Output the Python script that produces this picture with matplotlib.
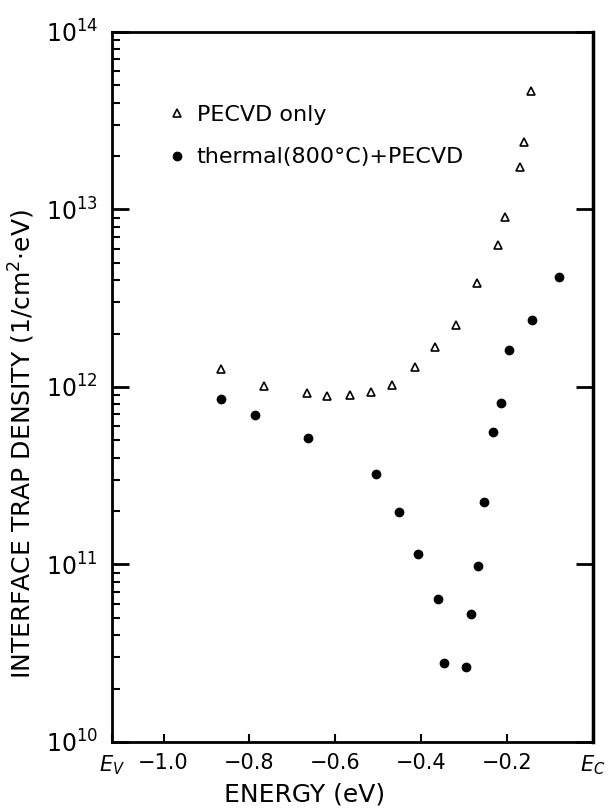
import matplotlib
matplotlib.use("Agg")
import matplotlib.pyplot as plt
from matplotlib.ticker import LogLocator, NullFormatter

# PECVD only (open triangles)
pecvd_e = [-0.866, -0.765, -0.667, -0.620, -0.565, -0.517, -0.468, -0.414,
           -0.367, -0.319, -0.270, -0.221, -0.206, -0.171, -0.160, -0.144]
pecvd_dit = [1.26e12, 1.01e12, 9.25e11, 8.9e11, 9.05e11, 9.33e11, 1.03e12, 1.29e12,
             1.68e12, 2.23e12, 3.87e12, 6.3e12, 9.04e12, 1.73e13, 2.41e13, 4.63e13]

# thermal(800C)+PECVD (filled circles)
therm_e = [-0.866, -0.787, -0.664, -0.505, -0.452, -0.407, -0.361, -0.347,
           -0.296, -0.283, -0.268, -0.253, -0.233, -0.215, -0.195, -0.143, -0.078]
therm_dit = [8.59e11, 6.95e11, 5.16e11, 3.25e11, 1.98e11, 1.15e11, 6.4e10, 2.77e10,
             2.63e10, 5.24e10, 9.77e10, 2.24e11, 5.58e11, 8.16e11, 1.62e12, 2.40e12, 4.17e12]

e_v = -1.12
e_c = 0.0
xticks = [e_v, -1.0, -0.8, -0.6, -0.4, -0.2, e_c]
xticklabels = ["$E_V$", "\u22121.0", "\u22120.8", "\u22120.6", "\u22120.4", "\u22120.2", "$E_C$"]

fig = plt.figure(figsize=(6.1, 8.08), dpi=100)
ax = fig.add_axes([0.1836, 0.0817, 0.7885, 0.8787])

ax.plot(pecvd_e, pecvd_dit, "^", markersize=6, markerfacecolor="white",
        markeredgecolor="k", markeredgewidth=1.2, linestyle="none", label="PECVD only")
ax.plot(therm_e, therm_dit, "o", markersize=6, color="k", linestyle="none",
        label="thermal(800\u00b0C)+PECVD")

ax.set_yscale("log")
ax.set_xlim(e_v, e_c)
ax.set_ylim(1e10, 1e14)

ax.set_xticks(xticks)
ax.set_xticklabels(xticklabels, fontsize=15)
ax.yaxis.set_major_locator(LogLocator(base=10, numticks=10))
ax.yaxis.set_minor_locator(LogLocator(base=10, subs=range(2, 10), numticks=10))
ax.yaxis.set_minor_formatter(NullFormatter())

for s in ax.spines.values():
    s.set_linewidth(2.0)
ax.spines["right"].set_linewidth(2.5)

ax.tick_params(axis="x", direction="in", length=6, width=1.5, pad=8)
ax.tick_params(axis="y", which="major", direction="in", length=12, width=2.0,
               right=True, labelsize=17, pad=10)
ax.tick_params(axis="y", which="minor", direction="in", length=6, width=1.5)

ax.set_xlabel("ENERGY (eV)", fontsize=18, labelpad=4, x=0.40)
ax.set_ylabel("INTERFACE TRAP DENSITY (1/cm$^2$\u00b7eV)", fontsize=18, labelpad=6, y=0.42)

ax.legend(loc="upper left", bbox_to_anchor=(0.07, 0.925), frameon=False,
          fontsize=16, handletextpad=0.4, labelspacing=1.0, handlelength=1.0,
          markerscale=1.0)

fig.savefig("out.png", dpi=100)
